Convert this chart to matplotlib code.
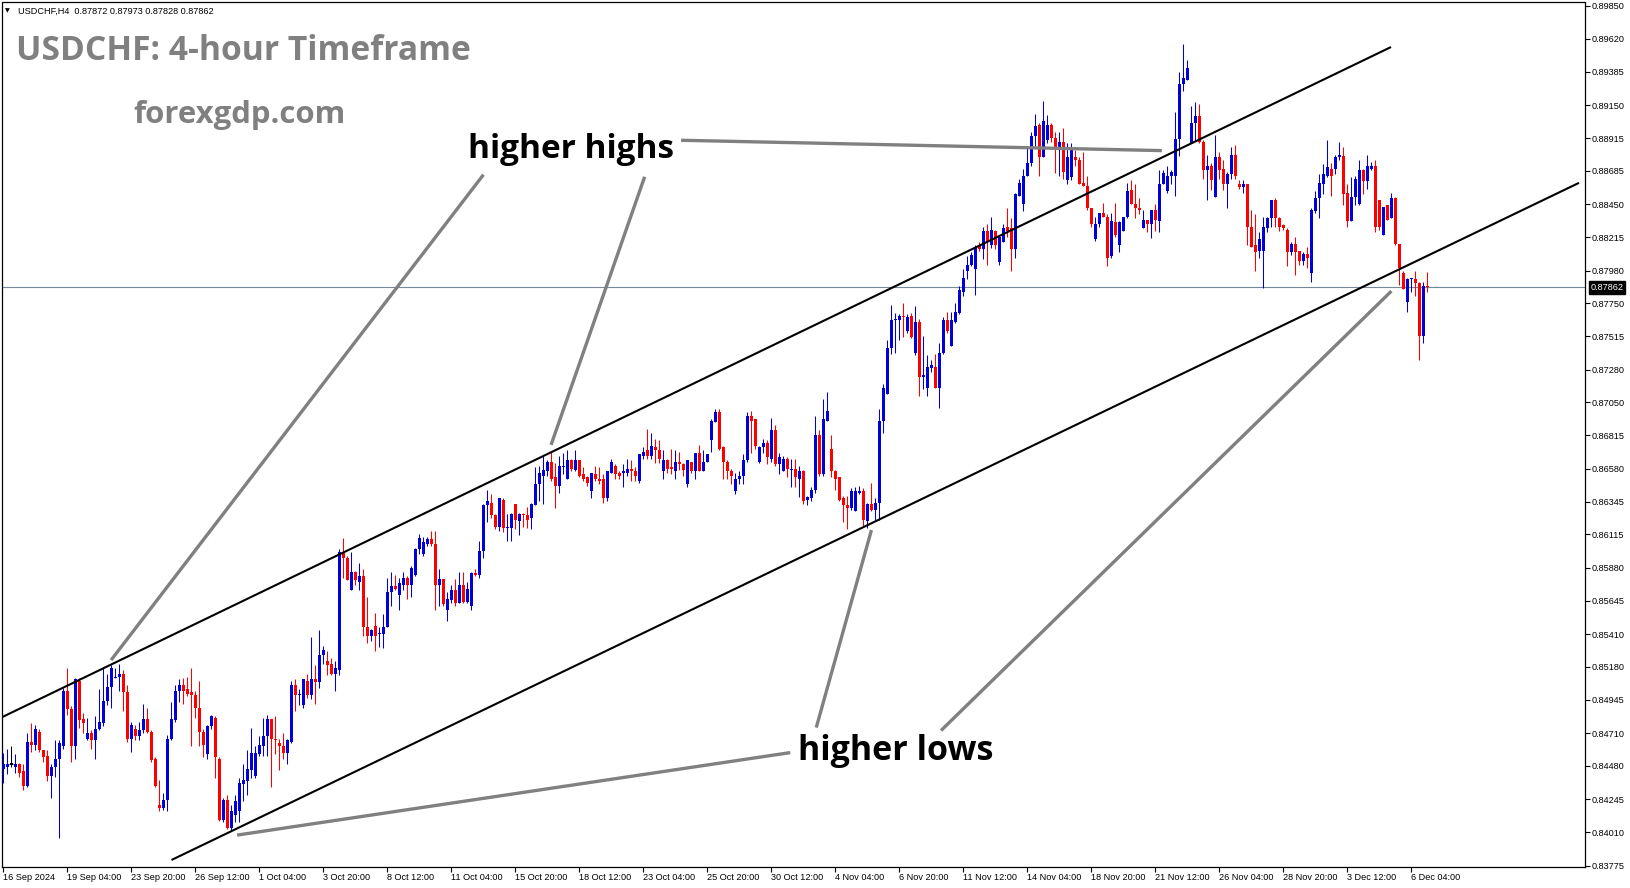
import numpy as np
import matplotlib.pyplot as plt
from matplotlib.transforms import blended_transform_factory

# USDCHF H4 candles, 16 Sep 2024 12:00 -> 6 Dec 2024 (one entry per 4-hour bar)
opens = [
    0.8446, 0.8447, 0.8449, 0.8447, 0.8449, 0.8444, 0.8434, 0.8465, 0.8463, 0.8472,
    0.8459, 0.8455, 0.8441, 0.8447, 0.8453, 0.8462, 0.8501, 0.8488, 0.8462, 0.8508,
    0.8481, 0.8467, 0.8471, 0.8466, 0.8474, 0.8478, 0.8494, 0.8504, 0.8510, 0.8511,
    0.8513, 0.8500, 0.8467, 0.8474, 0.8469, 0.8473, 0.8481, 0.8472, 0.8453, 0.8420,
    0.8418, 0.8424, 0.8467, 0.8480, 0.8501, 0.8505, 0.8502, 0.8500, 0.8498, 0.8489,
    0.8472, 0.8456, 0.8476, 0.8482, 0.8453, 0.8410, 0.8424, 0.8404, 0.8413, 0.8416,
    0.8435, 0.8437, 0.8445, 0.8441, 0.8456, 0.8462, 0.8469, 0.8481, 0.8467, 0.8464,
    0.8462, 0.8457, 0.8465, 0.8505, 0.8498, 0.8491, 0.8508, 0.8498, 0.8509, 0.8507,
    0.8526, 0.8522, 0.8520, 0.8513, 0.8516, 0.8599, 0.8595, 0.8572, 0.8585, 0.8578,
    0.8582, 0.8546, 0.8540, 0.8547, 0.8541, 0.8541, 0.8546, 0.8571, 0.8575, 0.8569,
    0.8576, 0.8581, 0.8576, 0.8583, 0.8601, 0.8598, 0.8605, 0.8608, 0.8605, 0.8576,
    0.8580, 0.8558, 0.8565, 0.8572, 0.8563, 0.8576, 0.8564, 0.8561, 0.8584, 0.8583,
    0.8600, 0.8632, 0.8634, 0.8625, 0.8617, 0.8636, 0.8616, 0.8616, 0.8633, 0.8621,
    0.8626, 0.8625, 0.8623, 0.8632, 0.8647, 0.8653, 0.8656, 0.8663, 0.8652, 0.8646,
    0.8659, 0.8651, 0.8664, 0.8657, 0.8664, 0.8654, 0.8652, 0.8642, 0.8654, 0.8651,
    0.8651, 0.8637, 0.8655, 0.8660, 0.8655, 0.8655, 0.8655, 0.8658, 0.8656, 0.8649,
    0.8667, 0.8671, 0.8667, 0.8673, 0.8671, 0.8656, 0.8664, 0.8659, 0.8656, 0.8663,
    0.8661, 0.8647, 0.8663, 0.8656, 0.8669, 0.8656, 0.8663, 0.8678, 0.8691, 0.8698,
    0.8673, 0.8663, 0.8656, 0.8642, 0.8651, 0.8653, 0.8664, 0.8695, 0.8693, 0.8663,
    0.8673, 0.8676, 0.8665, 0.8685, 0.8661, 0.8656, 0.8665, 0.8657, 0.8658, 0.8651,
    0.8656, 0.8636, 0.8637, 0.8643, 0.8682, 0.8654, 0.8692, 0.8672, 0.8656, 0.8652,
    0.8637, 0.8632, 0.8630, 0.8628, 0.8641, 0.8642, 0.8621, 0.8633, 0.8629, 0.8634,
    0.8692, 0.8711, 0.8743, 0.8763, 0.8763, 0.8766, 0.8755, 0.8766, 0.8740, 0.8762,
    0.8723, 0.8715, 0.8729, 0.8730, 0.8715, 0.8740, 0.8763, 0.8745, 0.8762, 0.8768,
    0.8783, 0.8798, 0.8802, 0.8799, 0.8816, 0.8813, 0.8826, 0.8816, 0.8826, 0.8804,
    0.8818, 0.8829, 0.8828, 0.8813, 0.8851, 0.8845, 0.8865, 0.8874, 0.8893, 0.8901,
    0.8878, 0.8890, 0.8901, 0.8892, 0.8883, 0.8889, 0.8862, 0.8864, 0.8878, 0.8876,
    0.8860, 0.8858, 0.8842, 0.8820, 0.8831, 0.8839, 0.8836, 0.8808, 0.8832, 0.8816,
    0.8826, 0.8836, 0.8855, 0.8845, 0.8842, 0.8828, 0.8834, 0.8831, 0.8841, 0.8833,
    0.8859, 0.8854, 0.8865, 0.8865, 0.8891, 0.8930, 0.8933, 0.8888, 0.8902, 0.8907,
    0.8889, 0.8869, 0.8872, 0.8850, 0.8878, 0.8870, 0.8859, 0.8866, 0.8880, 0.8859,
    0.8857, 0.8859, 0.8829, 0.8816, 0.8812, 0.8812, 0.8828, 0.8835, 0.8848, 0.8835,
    0.8830, 0.8827, 0.8811, 0.8817, 0.8812, 0.8805, 0.8810, 0.8796, 0.8840, 0.8849,
    0.8859, 0.8865, 0.8870, 0.8870, 0.8878, 0.8879, 0.8853, 0.8833, 0.8850, 0.8845,
    0.8869, 0.8861, 0.8870, 0.8872, 0.8848, 0.8823, 0.8844, 0.8835, 0.8849, 0.8817,
    0.8796, 0.8776, 0.8792, 0.8792, 0.8789, 0.8752, 0.87872,
]
highs = [
    0.8457, 0.8460, 0.8462, 0.8456, 0.8450, 0.8449, 0.8471, 0.8478, 0.8477, 0.8474,
    0.8459, 0.8459, 0.8449, 0.8466, 0.8466, 0.8503, 0.8517, 0.8490, 0.8510, 0.8510,
    0.8485, 0.8482, 0.8473, 0.8483, 0.8502, 0.8518, 0.8513, 0.8519, 0.8517, 0.8520,
    0.8516, 0.8505, 0.8479, 0.8477, 0.8479, 0.8492, 0.8489, 0.8473, 0.8454, 0.8438,
    0.8429, 0.8470, 0.8493, 0.8505, 0.8509, 0.8510, 0.8511, 0.8517, 0.8501, 0.8508,
    0.8474, 0.8477, 0.8484, 0.8483, 0.8454, 0.8425, 0.8427, 0.8420, 0.8427, 0.8439,
    0.8449, 0.8459, 0.8475, 0.8462, 0.8469, 0.8482, 0.8484, 0.8481, 0.8483, 0.8467,
    0.8471, 0.8467, 0.8508, 0.8509, 0.8502, 0.8509, 0.8513, 0.8539, 0.8519, 0.8544,
    0.8533, 0.8529, 0.8524, 0.8522, 0.8601, 0.8609, 0.8596, 0.8599, 0.8586, 0.8591,
    0.8587, 0.8567, 0.8545, 0.8556, 0.8546, 0.8555, 0.8581, 0.8585, 0.8583, 0.8581,
    0.8585, 0.8582, 0.8589, 0.8602, 0.8612, 0.8610, 0.8610, 0.8614, 0.8614, 0.8587,
    0.8580, 0.8571, 0.8576, 0.8580, 0.8585, 0.8585, 0.8578, 0.8585, 0.8587, 0.8607,
    0.8633, 0.8643, 0.8640, 0.8626, 0.8637, 0.8637, 0.8626, 0.8627, 0.8633, 0.8627,
    0.8627, 0.8631, 0.8634, 0.8659, 0.8660, 0.8667, 0.8664, 0.8670, 0.8662, 0.8667,
    0.8669, 0.8671, 0.8665, 0.8671, 0.8664, 0.8659, 0.8653, 0.8655, 0.8660, 0.8659,
    0.8654, 0.8656, 0.8665, 0.8661, 0.8656, 0.8661, 0.8665, 0.8664, 0.8659, 0.8668,
    0.8673, 0.8686, 0.8683, 0.8679, 0.8678, 0.8671, 0.8665, 0.8672, 0.8671, 0.8670,
    0.8662, 0.8664, 0.8663, 0.8669, 0.8675, 0.8671, 0.8668, 0.8693, 0.8700, 0.8700,
    0.8674, 0.8664, 0.8658, 0.8655, 0.8656, 0.8668, 0.8698, 0.8699, 0.8693, 0.8674,
    0.8679, 0.8678, 0.8694, 0.8689, 0.8669, 0.8667, 0.8666, 0.8665, 0.8665, 0.8660,
    0.8657, 0.8639, 0.8645, 0.8695, 0.8685, 0.8707, 0.8712, 0.8682, 0.8657, 0.8652,
    0.8639, 0.8639, 0.8644, 0.8645, 0.8646, 0.8644, 0.8634, 0.8648, 0.8637, 0.8700,
    0.8718, 0.8749, 0.8774, 0.8768, 0.8767, 0.8775, 0.8767, 0.8768, 0.8773, 0.8764,
    0.8752, 0.8738, 0.8735, 0.8739, 0.8747, 0.8765, 0.8769, 0.8769, 0.8775, 0.8787,
    0.8799, 0.8808, 0.8811, 0.8816, 0.8818, 0.8829, 0.8831, 0.8836, 0.8827, 0.8822,
    0.8831, 0.8842, 0.8835, 0.8853, 0.8863, 0.8870, 0.8886, 0.8896, 0.8909, 0.8902,
    0.8918, 0.8908, 0.8902, 0.8896, 0.8896, 0.8899, 0.8888, 0.8888, 0.8883, 0.8878,
    0.8882, 0.8865, 0.8842, 0.8836, 0.8839, 0.8846, 0.8838, 0.8839, 0.8846, 0.8833,
    0.8836, 0.8860, 0.8862, 0.8859, 0.8849, 0.8841, 0.8834, 0.8841, 0.8845, 0.8869,
    0.8869, 0.8872, 0.8869, 0.8910, 0.8938, 0.8958, 0.8947, 0.8914, 0.8917, 0.8916,
    0.8890, 0.8880, 0.8874, 0.8894, 0.8882, 0.8876, 0.8868, 0.8885, 0.8887, 0.8862,
    0.8862, 0.8859, 0.8841, 0.8838, 0.8825, 0.8836, 0.8836, 0.8848, 0.8849, 0.8836,
    0.8831, 0.8828, 0.8818, 0.8822, 0.8812, 0.8811, 0.8815, 0.8842, 0.8854, 0.8866,
    0.8873, 0.8890, 0.8874, 0.8880, 0.8889, 0.8885, 0.8859, 0.8864, 0.8865, 0.8876,
    0.8870, 0.8880, 0.8875, 0.8876, 0.8848, 0.8843, 0.8844, 0.8853, 0.8850, 0.8817,
    0.8798, 0.8793, 0.8793, 0.8798, 0.8790, 0.8790, 0.87973,
]
lows = [
    0.8436, 0.8442, 0.8447, 0.8443, 0.8440, 0.8431, 0.8433, 0.8458, 0.8459, 0.8458,
    0.8451, 0.8437, 0.8425, 0.8440, 0.8397, 0.8460, 0.8484, 0.8451, 0.8453, 0.8475,
    0.8471, 0.8466, 0.8460, 0.8453, 0.8473, 0.8476, 0.8491, 0.8489, 0.8510, 0.8501,
    0.8487, 0.8465, 0.8458, 0.8466, 0.8466, 0.8471, 0.8471, 0.8451, 0.8433, 0.8416,
    0.8417, 0.8416, 0.8466, 0.8479, 0.8493, 0.8492, 0.8497, 0.8462, 0.8482, 0.8462,
    0.8454, 0.8453, 0.8474, 0.8439, 0.8409, 0.8408, 0.8403, 0.8402, 0.8408, 0.8408,
    0.8423, 0.8427, 0.8439, 0.8439, 0.8455, 0.8455, 0.8455, 0.8433, 0.8456, 0.8445,
    0.8453, 0.8449, 0.8464, 0.8487, 0.8491, 0.8489, 0.8496, 0.8495, 0.8492, 0.8503,
    0.8520, 0.8512, 0.8512, 0.8501, 0.8512, 0.8581, 0.8579, 0.8572, 0.8576, 0.8572,
    0.8540, 0.8535, 0.8536, 0.8529, 0.8532, 0.8531, 0.8546, 0.8561, 0.8572, 0.8558,
    0.8572, 0.8566, 0.8567, 0.8582, 0.8598, 0.8596, 0.8603, 0.8603, 0.8558, 0.8561,
    0.8561, 0.8550, 0.8563, 0.8561, 0.8563, 0.8563, 0.8563, 0.8558, 0.8582, 0.8581,
    0.8595, 0.8620, 0.8623, 0.8615, 0.8614, 0.8613, 0.8607, 0.8607, 0.8615, 0.8611,
    0.8617, 0.8616, 0.8615, 0.8632, 0.8635, 0.8633, 0.8653, 0.8649, 0.8630, 0.8641,
    0.8654, 0.8651, 0.8656, 0.8656, 0.8652, 0.8649, 0.8646, 0.8637, 0.8649, 0.8647,
    0.8634, 0.8635, 0.8655, 0.8651, 0.8651, 0.8645, 0.8653, 0.8649, 0.8649, 0.8648,
    0.8665, 0.8665, 0.8665, 0.8662, 0.8662, 0.8651, 0.8655, 0.8654, 0.8651, 0.8657,
    0.8653, 0.8645, 0.8655, 0.8651, 0.8656, 0.8656, 0.8663, 0.8670, 0.8691, 0.8671,
    0.8651, 0.8651, 0.8647, 0.8640, 0.8647, 0.8647, 0.8663, 0.8669, 0.8672, 0.8662,
    0.8669, 0.8661, 0.8663, 0.8660, 0.8654, 0.8656, 0.8652, 0.8645, 0.8645, 0.8638,
    0.8633, 0.8632, 0.8635, 0.8641, 0.8653, 0.8653, 0.8692, 0.8652, 0.8643, 0.8635,
    0.8620, 0.8615, 0.8629, 0.8628, 0.8640, 0.8617, 0.8616, 0.8628, 0.8622, 0.8622,
    0.8683, 0.8711, 0.8739, 0.8740, 0.8749, 0.8751, 0.8754, 0.8750, 0.8738, 0.8709,
    0.8714, 0.8709, 0.8726, 0.8715, 0.8701, 0.8739, 0.8754, 0.8745, 0.8761, 0.8767,
    0.8780, 0.8792, 0.8801, 0.8781, 0.8812, 0.8806, 0.8802, 0.8814, 0.8813, 0.8802,
    0.8818, 0.8822, 0.8798, 0.8807, 0.8851, 0.8840, 0.8865, 0.8872, 0.8886, 0.8865,
    0.8878, 0.8888, 0.8889, 0.8867, 0.8865, 0.8863, 0.8859, 0.8862, 0.8872, 0.8859,
    0.8858, 0.8841, 0.8829, 0.8819, 0.8829, 0.8836, 0.8801, 0.8807, 0.8822, 0.8811,
    0.8826, 0.8835, 0.8845, 0.8835, 0.8838, 0.8828, 0.8825, 0.8821, 0.8826, 0.8825,
    0.8859, 0.8853, 0.8859, 0.8851, 0.8879, 0.8925, 0.8933, 0.8888, 0.8890, 0.8888,
    0.8863, 0.8848, 0.8855, 0.8850, 0.8863, 0.8855, 0.8842, 0.8863, 0.8863, 0.8856,
    0.8853, 0.8816, 0.8815, 0.8798, 0.8807, 0.8786, 0.8825, 0.8829, 0.8829, 0.8826,
    0.8827, 0.8801, 0.8809, 0.8795, 0.8802, 0.8802, 0.8800, 0.8790, 0.8839, 0.8835,
    0.8852, 0.8864, 0.8851, 0.8866, 0.8876, 0.8844, 0.8829, 0.8833, 0.8844, 0.8844,
    0.8852, 0.8856, 0.8869, 0.8825, 0.8827, 0.8823, 0.8834, 0.8835, 0.8816, 0.8788,
    0.8785, 0.8769, 0.8783, 0.8780, 0.8735, 0.8747, 0.87828,
]
closes = [
    0.8449, 0.8449, 0.8449, 0.8449, 0.8443, 0.8434, 0.8465, 0.8463, 0.8474, 0.8459,
    0.8454, 0.8441, 0.8447, 0.8453, 0.8464, 0.8501, 0.8488, 0.8462, 0.8509, 0.8480,
    0.8478, 0.8471, 0.8466, 0.8474, 0.8479, 0.8494, 0.8504, 0.8517, 0.8511, 0.8513,
    0.8500, 0.8467, 0.8477, 0.8469, 0.8473, 0.8481, 0.8472, 0.8452, 0.8434, 0.8418,
    0.8424, 0.8467, 0.8481, 0.8501, 0.8505, 0.8501, 0.8499, 0.8498, 0.8489, 0.8472,
    0.8463, 0.8476, 0.8483, 0.8454, 0.8410, 0.8424, 0.8404, 0.8416, 0.8423, 0.8436,
    0.8438, 0.8446, 0.8457, 0.8457, 0.8463, 0.8469, 0.8481, 0.8467, 0.8466, 0.8462,
    0.8457, 0.8466, 0.8505, 0.8498, 0.8499, 0.8509, 0.8498, 0.8509, 0.8507, 0.8526,
    0.8530, 0.8519, 0.8513, 0.8517, 0.8599, 0.8595, 0.8579, 0.8585, 0.8579, 0.8582,
    0.8546, 0.8540, 0.8544, 0.8540, 0.8542, 0.8546, 0.8571, 0.8575, 0.8573, 0.8577,
    0.8581, 0.8576, 0.8588, 0.8601, 0.8609, 0.8606, 0.8608, 0.8605, 0.8576, 0.8580,
    0.8562, 0.8566, 0.8572, 0.8563, 0.8576, 0.8564, 0.8573, 0.8584, 0.8583, 0.8600,
    0.8632, 0.8635, 0.8625, 0.8617, 0.8637, 0.8616, 0.8617, 0.8626, 0.8622, 0.8626,
    0.8625, 0.8622, 0.8633, 0.8647, 0.8655, 0.8657, 0.8663, 0.8651, 0.8646, 0.8660,
    0.8660, 0.8664, 0.8658, 0.8664, 0.8653, 0.8651, 0.8648, 0.8655, 0.8651, 0.8649,
    0.8637, 0.8656, 0.8663, 0.8654, 0.8653, 0.8656, 0.8658, 0.8656, 0.8653, 0.8668,
    0.8670, 0.8667, 0.8674, 0.8671, 0.8665, 0.8664, 0.8658, 0.8658, 0.8663, 0.8661,
    0.8657, 0.8664, 0.8656, 0.8669, 0.8656, 0.8663, 0.8668, 0.8692, 0.8698, 0.8672,
    0.8663, 0.8656, 0.8653, 0.8651, 0.8653, 0.8664, 0.8695, 0.8692, 0.8674, 0.8673,
    0.8676, 0.8666, 0.8685, 0.8661, 0.8666, 0.8665, 0.8658, 0.8658, 0.8652, 0.8656,
    0.8635, 0.8638, 0.8643, 0.8682, 0.8654, 0.8693, 0.8699, 0.8656, 0.8651, 0.8636,
    0.8632, 0.8630, 0.8642, 0.8642, 0.8642, 0.8622, 0.8633, 0.8629, 0.8634, 0.8692,
    0.8715, 0.8743, 0.8763, 0.8764, 0.8766, 0.8765, 0.8765, 0.8751, 0.8762, 0.8723,
    0.8724, 0.8730, 0.8731, 0.8715, 0.8740, 0.8763, 0.8755, 0.8763, 0.8769, 0.8784,
    0.8793, 0.8802, 0.8809, 0.8815, 0.8813, 0.8826, 0.8818, 0.8827, 0.8816, 0.8822,
    0.8828, 0.8826, 0.8813, 0.8852, 0.8860, 0.8865, 0.8874, 0.8893, 0.8900, 0.8878,
    0.8904, 0.8901, 0.8892, 0.8883, 0.8889, 0.8868, 0.8878, 0.8885, 0.8876, 0.8859,
    0.8858, 0.8842, 0.8831, 0.8831, 0.8839, 0.8836, 0.8807, 0.8833, 0.8823, 0.8832,
    0.8836, 0.8854, 0.8845, 0.8842, 0.8841, 0.8834, 0.8831, 0.8841, 0.8834, 0.8859,
    0.8867, 0.8865, 0.8868, 0.8891, 0.8930, 0.8934, 0.8941, 0.8902, 0.8907, 0.8889,
    0.8869, 0.8872, 0.8862, 0.8878, 0.8869, 0.8859, 0.8866, 0.8880, 0.8865, 0.8857,
    0.8859, 0.8829, 0.8815, 0.8811, 0.8820, 0.8829, 0.8835, 0.8848, 0.8835, 0.8829,
    0.8828, 0.8811, 0.8817, 0.8811, 0.8805, 0.8810, 0.8807, 0.8841, 0.8849, 0.8860,
    0.8866, 0.8871, 0.8865, 0.8878, 0.8880, 0.8852, 0.8833, 0.8850, 0.8863, 0.8869,
    0.8861, 0.8872, 0.8872, 0.8829, 0.8829, 0.8843, 0.8834, 0.8849, 0.8817, 0.8800,
    0.8785, 0.8792, 0.8793, 0.8789, 0.8752, 0.8787, 0.87862,
]

date_labels = ["16 Sep 2024", "19 Sep 04:00", "23 Sep 20:00", "26 Sep 12:00", "1 Oct 04:00",
               "3 Oct 20:00", "8 Oct 12:00", "11 Oct 04:00", "15 Oct 20:00", "18 Oct 12:00",
               "23 Oct 04:00", "25 Oct 20:00", "30 Oct 12:00", "4 Nov 04:00", "6 Nov 20:00",
               "11 Nov 12:00", "14 Nov 04:00", "18 Nov 20:00", "21 Nov 12:00", "26 Nov 04:00",
               "28 Nov 20:00", "3 Dec 12:00", "6 Dec 04:00"]
bars_per_label = 16

price_ticks = [0.89850, 0.89620, 0.89385, 0.89150, 0.88915, 0.88685, 0.88450, 0.88215,
               0.87980, 0.87750, 0.87515, 0.87280, 0.87050, 0.86815, 0.86580, 0.86345,
               0.86115, 0.85880, 0.85645, 0.85410, 0.85180, 0.84945, 0.84710, 0.84480,
               0.84245, 0.84010, 0.83775]
last_price = 0.87862
header = "USDCHF,H4  0.87872 0.87973 0.87828 0.87862"

# drawn objects: (bar index, price) anchor pairs
channel_upper = [(-0.4, 0.84823), (346.9, 0.89560)]
channel_lower = [(42.0, 0.83814), (393.9, 0.88600)]
highs_pointers = [[(169.4, 0.88901), (289.6, 0.88828)],
                  [(120.0, 0.88658), (26.9, 0.85227)],
                  [(160.3, 0.88643), (136.9, 0.86748)]]
lows_pointers = [[(196.7, 0.84573), (58.4, 0.83990)],
                 [(203.2, 0.84750), (217.0, 0.86146)],
                 [(234.4, 0.84729), (347.0, 0.87835)]]

W, H = 1631, 888
fig = plt.figure(figsize=(W / 100, H / 100), dpi=100)
ax = fig.add_axes([2 / W, 21.5 / H, 1583 / W, 864 / H])

o = np.array(opens); h = np.array(highs); l = np.array(lows); c = np.array(closes)
x = np.arange(len(o))
col = np.where(c > o, '#0000dd', np.where(c < o, '#ff0000', '#000000'))

ax.vlines(x, l, h, colors=col, linewidth=0.75, zorder=3)
body_lo = np.minimum(o, c)
body_h = np.maximum(np.abs(c - o), 0.00008)
ax.bar(x, body_h, bottom=body_lo, width=0.72, color=col, linewidth=0, zorder=4)
doji = c == o
ax.hlines(o[doji], x[doji] - 0.5, x[doji] + 0.5, colors='#000000', linewidth=0.75, zorder=4)

# current price line
ax.axhline(last_price, color='#778899', linewidth=0.8, zorder=2)

for (x0, y0), (x1, y1) in [channel_upper, channel_lower]:
    ax.plot([x0, x1], [y0, y1], color='black', linewidth=1.5, zorder=5, solid_capstyle='butt')
for seg in highs_pointers + lows_pointers:
    (x0, y0), (x1, y1) = seg
    ax.plot([x0, x1], [y0, y1], color='#808080', linewidth=2.4, zorder=5, solid_capstyle='butt')

ax.set_xlim(-0.375, 395.4)
ax.set_ylim(0.83768, 0.898747)

ax.set_xticks(np.arange(len(date_labels)) * bars_per_label)
ax.set_xticklabels(date_labels, ha='left', fontsize=6.6, family='Liberation Sans')
ax.yaxis.tick_right()
ax.set_yticks(price_ticks)
ax.set_yticklabels([f"{p:.5f}" for p in price_ticks], fontsize=6.6, family='Liberation Sans')
ax.tick_params(axis='both', direction='out', length=3.5, width=0.8, pad=1.5, colors='black')
for s in ax.spines.values():
    s.set_linewidth(0.9)
    s.set_color('black')

# current price box on the scale
tr = blended_transform_factory(ax.transAxes, ax.transData)
ax.text(1.0035, last_price, f"{last_price:.5f}", transform=tr, ha='left', va='center',
        fontsize=6.6, family='Liberation Sans', color='white', zorder=10,
        bbox=dict(boxstyle='square,pad=0.2', fc='black', ec='black'))

fig.text(5 / W, 1 - 11 / H, '\u25bc', fontsize=4.5, va='center', ha='left', color='black')
fig.text(18 / W, 1 - 11 / H, header, fontsize=6.6, family='Liberation Sans', va='center', ha='left')

fig.text(16 / W, 1 - 60 / H, 'USDCHF: 4-hour Timeframe', fontsize=24.2, family='Open Sans',
         weight='bold', color='#808080', va='baseline', ha='left')
fig.text(133 / W, 1 - 123 / H, 'forexgdp.com', fontsize=22.4, family='Open Sans',
         weight='bold', color='#808080', va='baseline', ha='left')
fig.text(468 / W, 1 - 158 / H, 'higher highs', fontsize=24.0, family='Open Sans',
         weight='bold', color='black', va='baseline', ha='left')
fig.text(798 / W, 1 - 760 / H, 'higher lows', fontsize=24.5, family='Open Sans',
         weight='bold', color='black', va='baseline', ha='left')

fig.savefig('out.png', dpi=100, facecolor='white')
